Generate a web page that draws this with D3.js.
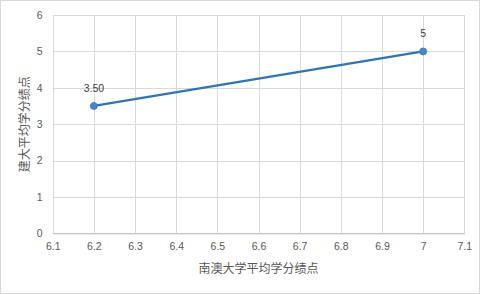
<!DOCTYPE html>
<html lang="zh">
  <head>
    <meta charset="UTF-8" />
    <title>南澳大学 vs 建大 平均学分绩点</title>
    <script src="https://d3js.org/d3.v7.min.js"></script>
    <style>
      body { margin: 0; background: #fff; }
      svg { font-family: "Liberation Sans", "Noto Sans CJK SC", sans-serif; }
      .grid line { stroke: #d9d9d9; stroke-width: 1; }
      .axis text { fill: #595959; font-size: 10.5px; }
      .title { fill: #595959; font-size: 12px; }
    </style>
  </head>
  <body>
    <div id="chart"></div>
    <script>
      // 数据
      const xValues = [6.2, 7];
      const yValues = [3.5, 5];
      const pointLabels = ["3.50", "5"];
      const xTicks = [6.1, 6.2, 6.3, 6.4, 6.5, 6.6, 6.7, 6.8, 6.9, 7, 7.1];
      const yTicks = [0, 1, 2, 3, 4, 5, 6];

      const width = 480;
      const height = 294;
      const margin = { left: 52.7, right: 15.7, top: 15, bottom: 60.7 };

      const svg = d3.select("#chart").append("svg").attr("width", width).attr("height", height);

      svg.append("rect")
        .attr("x", 0.5).attr("y", 0.5)
        .attr("width", width - 1).attr("height", height - 1)
        .attr("fill", "#fff").attr("stroke", "#d9d9d9");

      const x = d3.scaleLinear().domain([6.1, 7.1]).range([margin.left, width - margin.right]);
      const y = d3.scaleLinear().domain([0, 6]).range([height - margin.bottom, margin.top]);

      // 网格线
      const grid = svg.append("g").attr("class", "grid");
      grid.selectAll(".v").data(xTicks).enter().append("line")
        .attr("x1", (d) => Math.round(x(d)) + 0.5).attr("x2", (d) => Math.round(x(d)) + 0.5)
        .attr("y1", y(6)).attr("y2", y(0));
      grid.selectAll(".h").data(yTicks).enter().append("line")
        .attr("x1", x(6.1)).attr("x2", x(7.1))
        .attr("y1", (d) => Math.round(y(d)) + 0.5).attr("y2", (d) => Math.round(y(d)) + 0.5);

      // 坐标轴
      const xAxis = d3.axisBottom(x).tickValues(xTicks).tickSize(0).tickPadding(9).tickFormat((d) => String(d));
      svg.append("g").attr("class", "axis")
        .attr("transform", `translate(0, ${y(0)})`).call(xAxis)
        .call((g) => g.select(".domain").attr("stroke", "#bfbfbf"));

      const yAxis = d3.axisLeft(y).tickValues(yTicks).tickSize(0).tickPadding(10).tickFormat(d3.format("d"));
      svg.append("g").attr("class", "axis")
        .attr("transform", `translate(${x(6.1)}, 0)`).call(yAxis)
        .call((g) => g.select(".domain").remove());

      // 折线
      const pts = xValues.map((d, i) => ({ x: d, y: yValues[i], label: pointLabels[i] }));
      const line = d3.line().x((d) => x(d.x)).y((d) => y(d.y));
      svg.append("path").datum(pts)
        .attr("d", line).attr("fill", "none")
        .attr("stroke", "#2e75b6").attr("stroke-width", 2.25);

      svg.selectAll(".pt").data(pts).enter().append("circle")
        .attr("cx", (d) => x(d.x)).attr("cy", (d) => y(d.y)).attr("r", 3.5)
        .attr("fill", "#4a86c8").attr("stroke", "#2e75b6").attr("stroke-width", 0.75);

      svg.selectAll(".lbl").data(pts).enter().append("text")
        .attr("x", (d) => x(d.x)).attr("y", (d) => y(d.y) - 14)
        .attr("text-anchor", "middle").attr("fill", "#404040").attr("font-size", "10.5px")
        .text((d) => d.label);

      // 轴标题
      svg.append("text").attr("class", "title")
        .attr("x", (x(6.1) + x(7.1)) / 2).attr("y", 273)
        .attr("text-anchor", "middle").text("南澳大学平均学分绩点");

      svg.append("text").attr("class", "title")
        .attr("transform", `translate(29, ${(y(0) + y(6)) / 2}) rotate(-90)`)
        .attr("text-anchor", "middle").text("建大平均学分绩点");
    </script>
  </body>
</html>
